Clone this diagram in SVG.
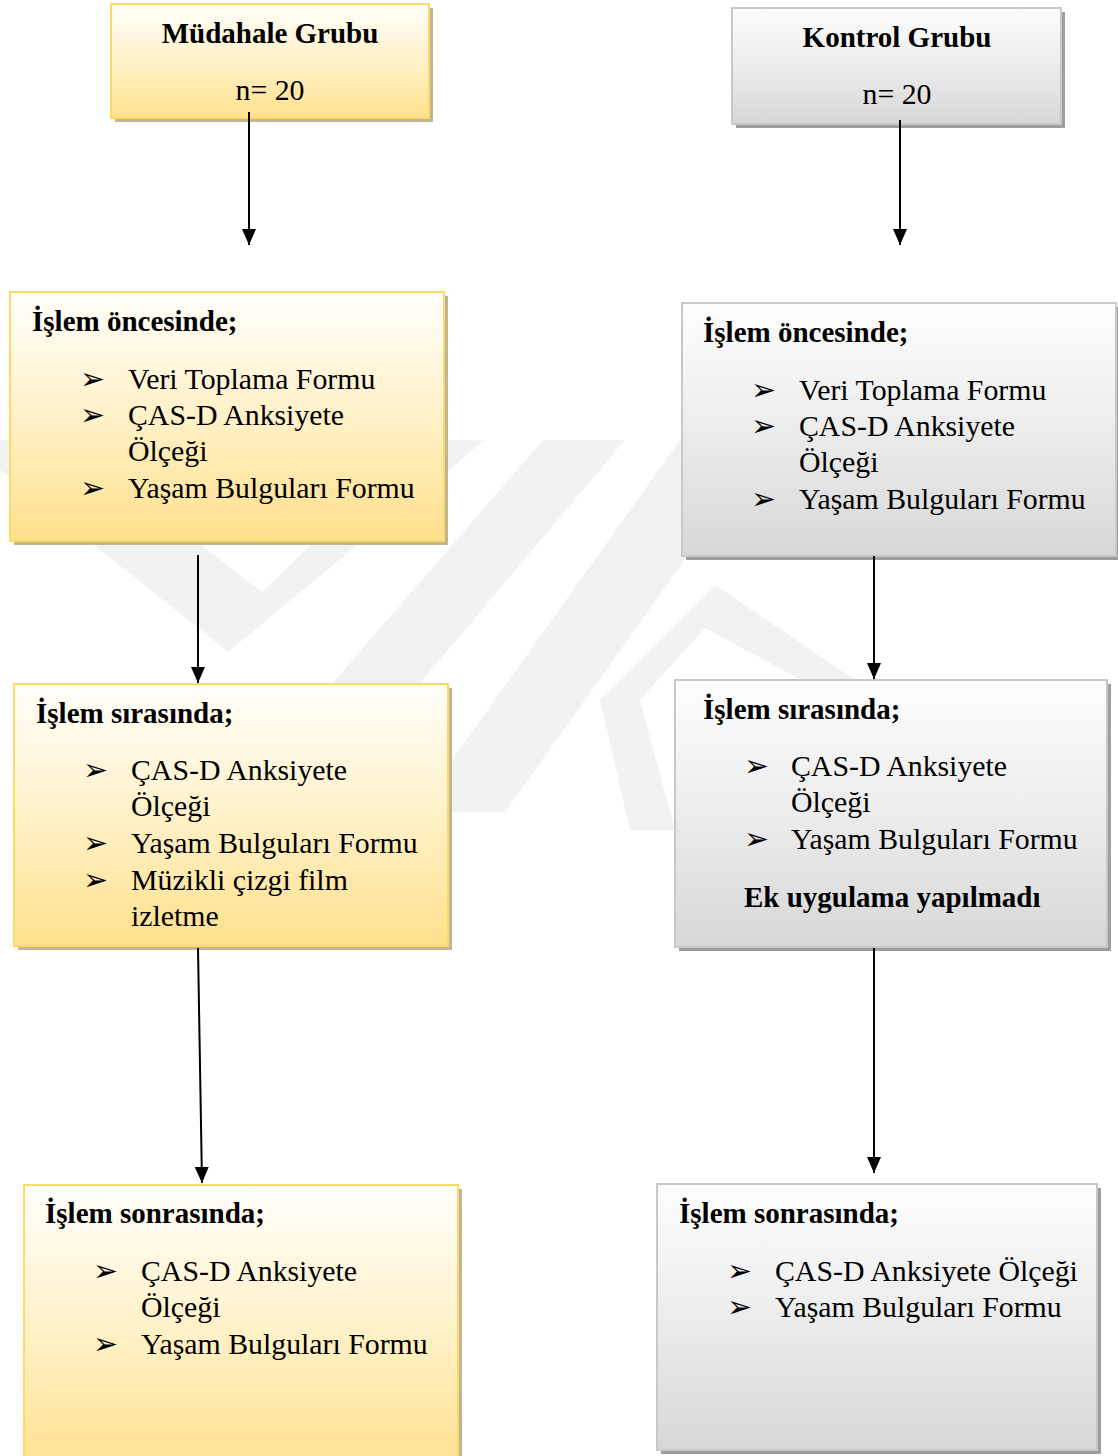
<svg xmlns="http://www.w3.org/2000/svg" width="1118" height="1456" viewBox="0 0 1118 1456">
  <defs>
    <linearGradient id="gy" x1="0" y1="0" x2="0" y2="1">
      <stop offset="0" stop-color="#fffefb"/>
      <stop offset="0.5" stop-color="#fff1c8"/>
      <stop offset="1" stop-color="#ffe08c"/>
    </linearGradient>
    <linearGradient id="gg" x1="0" y1="0" x2="0" y2="1">
      <stop offset="0" stop-color="#fdfdfd"/>
      <stop offset="0.5" stop-color="#ececec"/>
      <stop offset="1" stop-color="#d7d7d7"/>
    </linearGradient>
    <marker id="ah" markerWidth="16" markerHeight="14" refX="16" refY="7" orient="auto" markerUnits="userSpaceOnUse" viewBox="0 0 16 14">
      <path d="M0,0 L16,7 L0,14 Z" fill="#000"/>
    </marker>
  </defs>
  <style>
    .t{font-family:"Liberation Serif","Times New Roman",serif;font-size:29.8px;fill:#000}
    .b{font-weight:bold;font-size:29px}
    .bl{font-family:"DejaVu Sans",sans-serif;font-size:30px;fill:#000}
    .ybox{fill:url(#gy);stroke:#ffd966;stroke-width:2}
    .ysh{fill:#c2b594}
    .gbox{fill:url(#gg);stroke:#c8c8c8;stroke-width:2}
    .gsh{fill:#9e9e9e}
    .wm{fill:#f2f2f2}
    .conn line{stroke:#000;stroke-width:2}
  </style>
  <rect width="1118" height="1456" fill="#fff"/>

  <g id="watermark">
    <polygon class="wm" points="0,440 65,440 262,592 420,440 485,440 228,652 0,470"/>
    <polygon class="wm" points="543,440 625,440 330,790 240,790"/>
    <polygon class="wm" points="680,440 770,440 505,812 415,812"/>
    <polygon class="wm" points="715,585 870,690 820,690 705,628 640,700 600,700"/>
    <polygon class="wm" points="600,700 640,700 675,830 630,830"/>
  </g>

  <g id="n_mudahale">
    <rect class="ysh" x="115" y="8" width="318" height="114"/>
    <rect class="ybox" x="111" y="4" width="318" height="114"/>
    <text class="t b" x="270" y="43" text-anchor="middle">Müdahale Grubu</text>
    <text class="t" x="270" y="100" text-anchor="middle">n= 20</text>
  </g>

  <g id="n_kontrol">
    <rect class="gsh" x="736" y="12" width="329" height="116"/>
    <rect class="gbox" x="732" y="8" width="329" height="116"/>
    <text class="t b" x="897" y="47" text-anchor="middle">Kontrol Grubu</text>
    <text class="t" x="897" y="104" text-anchor="middle">n= 20</text>
  </g>

  <g id="n_oncesi_m">
    <rect class="ysh" x="14" y="296" width="434" height="249"/>
    <rect class="ybox" x="10" y="292" width="434" height="249"/>
    <text class="t b" x="32" y="331">İşlem öncesinde;</text>
    <text class="bl" x="80" y="389">➢</text>
    <text class="t" x="128" y="389">Veri Toplama Formu</text>
    <text class="bl" x="80" y="425">➢</text>
    <text class="t" x="128" y="425">ÇAS-D Anksiyete</text>
    <text class="t" x="128" y="461">Ölçeği</text>
    <text class="bl" x="80" y="498">➢</text>
    <text class="t" x="128" y="498">Yaşam Bulguları Formu</text>
  </g>

  <g id="n_oncesi_k">
    <rect class="gsh" x="686" y="307" width="434" height="253"/>
    <rect class="gbox" x="682" y="303" width="434" height="253"/>
    <text class="t b" x="703" y="342">İşlem öncesinde;</text>
    <text class="bl" x="751" y="400">➢</text>
    <text class="t" x="799" y="400">Veri Toplama Formu</text>
    <text class="bl" x="751" y="436">➢</text>
    <text class="t" x="799" y="436">ÇAS-D Anksiyete</text>
    <text class="t" x="799" y="472">Ölçeği</text>
    <text class="bl" x="751" y="509">➢</text>
    <text class="t" x="799" y="509">Yaşam Bulguları Formu</text>
  </g>

  <g id="n_sirasi_m">
    <rect class="ysh" x="18" y="688" width="434" height="262"/>
    <rect class="ybox" x="14" y="684" width="434" height="262"/>
    <text class="t b" x="36" y="723">İşlem sırasında;</text>
    <text class="bl" x="83" y="780">➢</text>
    <text class="t" x="131" y="780">ÇAS-D Anksiyete</text>
    <text class="t" x="131" y="816">Ölçeği</text>
    <text class="bl" x="83" y="853">➢</text>
    <text class="t" x="131" y="853">Yaşam Bulguları Formu</text>
    <text class="bl" x="83" y="890">➢</text>
    <text class="t" x="131" y="890">Müzikli çizgi film</text>
    <text class="t" x="131" y="926">izletme</text>
  </g>

  <g id="n_sirasi_k">
    <rect class="gsh" x="679" y="684" width="432" height="267"/>
    <rect class="gbox" x="675" y="680" width="432" height="267"/>
    <text class="t b" x="703" y="719">İşlem sırasında;</text>
    <text class="bl" x="744" y="776">➢</text>
    <text class="t" x="791" y="776">ÇAS-D Anksiyete</text>
    <text class="t" x="791" y="812">Ölçeği</text>
    <text class="bl" x="744" y="849">➢</text>
    <text class="t" x="791" y="849">Yaşam Bulguları Formu</text>
    <text class="t b" x="744" y="907">Ek uygulama yapılmadı</text>
  </g>

  <g id="n_sonrasi_m">
    <rect class="ysh" x="28" y="1189" width="434" height="290"/>
    <rect class="ybox" x="24" y="1185" width="434" height="290"/>
    <text class="t b" x="45" y="1223">İşlem sonrasında;</text>
    <text class="bl" x="93" y="1281">➢</text>
    <text class="t" x="141" y="1281">ÇAS-D Anksiyete</text>
    <text class="t" x="141" y="1317">Ölçeği</text>
    <text class="bl" x="93" y="1354">➢</text>
    <text class="t" x="141" y="1354">Yaşam Bulguları Formu</text>
  </g>

  <g id="n_sonrasi_k">
    <rect class="gsh" x="661" y="1188" width="440" height="266"/>
    <rect class="gbox" x="657" y="1184" width="440" height="266"/>
    <text class="t b" x="679" y="1223">İşlem sonrasında;</text>
    <text class="bl" x="727" y="1281">➢</text>
    <text class="t" x="775" y="1281">ÇAS-D Anksiyete Ölçeği</text>
    <text class="bl" x="727" y="1317">➢</text>
    <text class="t" x="775" y="1317">Yaşam Bulguları Formu</text>
  </g>

  <g id="connectors" class="conn">
    <line x1="249" y1="112" x2="249" y2="245" marker-end="url(#ah)"/>
    <line x1="900" y1="120" x2="900" y2="245" marker-end="url(#ah)"/>
    <line x1="198" y1="555" x2="198" y2="683" marker-end="url(#ah)"/>
    <line x1="874" y1="556" x2="874" y2="679" marker-end="url(#ah)"/>
    <line x1="198" y1="948" x2="202" y2="1183" marker-end="url(#ah)"/>
    <line x1="874" y1="948" x2="874" y2="1173" marker-end="url(#ah)"/>
  </g>
</svg>
